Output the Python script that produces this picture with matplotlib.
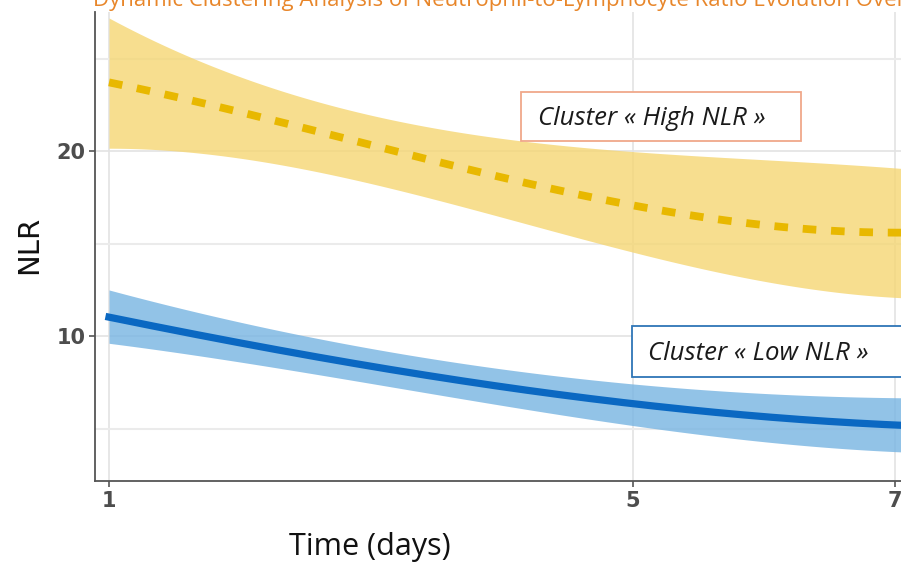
import numpy as np
import matplotlib.pyplot as plt
from matplotlib.patches import Rectangle
from matplotlib.ticker import FixedLocator

days = [1, 2, 3, 4, 5, 6, 7]

high_mean = [23.7, 22.1, 20.4, 18.5, 17.0, 16.1, 15.55]
high_upper = [27.2, 24.0, 21.9, 20.75, 19.95, 19.5, 19.1]
high_lower = [20.2, 19.5, 18.2, 16.7, 14.3, 13.0, 12.1]

low_mean = [11.03, 9.6, 8.37, 7.3, 6.3, 5.65, 5.19]
low_upper = [12.5, 10.7, 9.4, 8.2, 7.35, 6.95, 6.65]
low_lower = [9.6, 8.6, 7.45, 6.25, 5.1, 4.35, 3.73]

x_ticks = [1, 5, 7]
y_ticks = [10, 20]

W, H = 901, 564
fig = plt.figure(figsize=(9.01, 5.64), dpi=100, facecolor='white')
ax = fig.add_axes([95 / W, 83 / H, 806 / W, 469 / H])

# smooth curves through the read points
xs = np.linspace(1, 7.1, 200)
def smooth(vals):
    c = np.polyfit(days, vals, 3)
    return np.polyval(c, xs)

ax.fill_between(xs, smooth(high_lower), smooth(high_upper), color='#F5D673', alpha=0.8,
                lw=0, zorder=2)
ax.plot(xs, smooth(high_mean), color='#E8B800', lw=5.6, ls=(0, (1.75, 1.9)), zorder=3)

ax.fill_between(xs, smooth(low_lower), smooth(low_upper), color='#77B4E2', alpha=0.8,
                lw=0, zorder=2)
ax.plot(xs, smooth(low_mean), color='#0A68C2', lw=5.2, zorder=3)

ax.set_xlim(1 - 14 / 131, 1 + 792 / 131)
ax.set_ylim(20 - 330 / 18.5, 20 + 139 / 18.5)

ax.xaxis.set_major_locator(FixedLocator(x_ticks))
ax.yaxis.set_major_locator(FixedLocator(y_ticks))
ax.yaxis.set_minor_locator(FixedLocator([5, 15, 25]))
ax.grid(True, which='major', color='#E3E3E3', lw=1.2, zorder=0)
ax.grid(True, which='minor', axis='y', color='#EBEBEB', lw=1.5, zorder=0)
ax.tick_params(which='minor', length=0)
ax.tick_params(which='major', length=4, width=1.2, color='#555555',
               labelsize=15, labelcolor='#4D4D4D', pad=3)
for lab in ax.get_xticklabels() + ax.get_yticklabels():
    lab.set_fontweight('bold')

for s in ['top', 'right']:
    ax.spines[s].set_visible(False)
for s in ['left', 'bottom']:
    ax.spines[s].set_color('#555555')
    ax.spines[s].set_linewidth(1.3)

fig.text(29 / W, 1 - 245 / H, 'NLR', fontsize=21, color='#111111',
         rotation=90, va='center', ha='center')
fig.text(370 / W, 1 - 547 / H, 'Time (days)', fontsize=22, family='Open Sans',
         color='#111111', va='center', ha='center')

# annotation boxes (figure pixel coords)
def label_box(x0, y0, x1, y1, tx, text, edge):
    fig.patches.append(Rectangle((x0 / W, 1 - y1 / H), (x1 - x0) / W, (y1 - y0) / H,
                                 transform=fig.transFigure, fc='white', ec=edge, lw=1.3,
                                 zorder=5))
    fig.text(tx / W, 1 - (y0 + y1) / 2 / H - 2 / H, text, fontsize=18.5, style='italic',
             family='Open Sans', color='#1A1A1A', va='center', ha='left', zorder=6)

label_box(521, 92, 801, 141, 538, 'Cluster « High NLR »', '#F0A88A')
label_box(632, 326, 910, 377, 648, 'Cluster « Low NLR »', '#2E75B6')

fig.text(93 / W, 1 - 6 / H,
         'Dynamic Clustering Analysis of Neutrophil-to-Lymphocyte Ratio Evolution Over Time',
         fontsize=16, color='#E8862A', family='Open Sans', va='baseline', ha='left')

fig.savefig('out.png', dpi=100, facecolor='white')
